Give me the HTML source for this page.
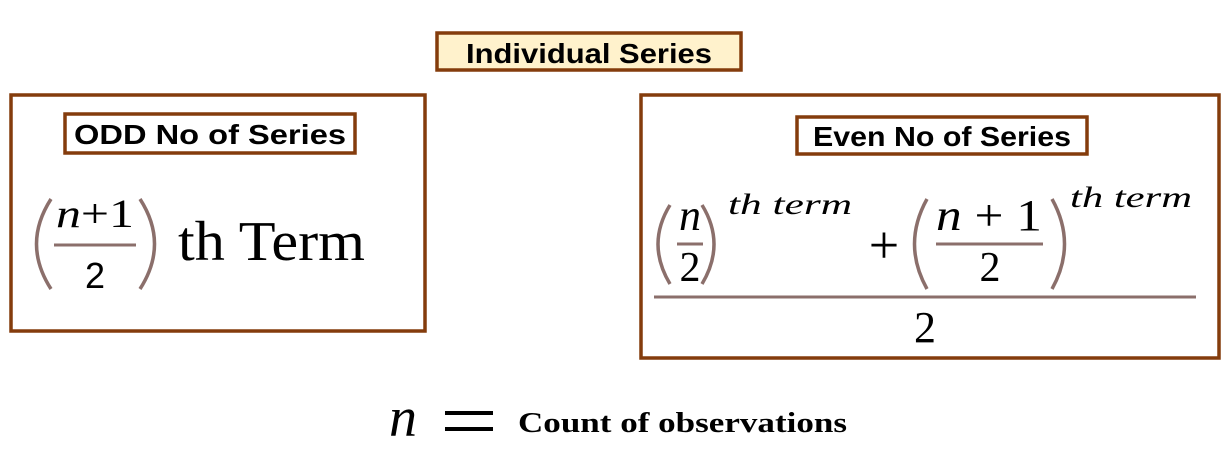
<!DOCTYPE html>
<html><head><meta charset="utf-8"><style>
html,body{margin:0;padding:0;background:#fff;}
svg{display:block;}
</style></head><body>
<svg width="1226" height="455" viewBox="0 0 1226 455" xmlns="http://www.w3.org/2000/svg">
<g fill="none" stroke="#843C0C" stroke-width="3.5">
<rect x="437" y="33" width="304" height="37" fill="#FFF2CC"/>
<rect x="11" y="95" width="414" height="236"/>
<rect x="65" y="114" width="290" height="39"/>
<rect x="641" y="95" width="578" height="263"/>
<rect x="797" y="117" width="290" height="37"/>
</g>
<g font-family="Liberation Sans, sans-serif" font-weight="bold" font-size="28" fill="#000" text-anchor="middle">
<text x="589" y="63" textLength="246" lengthAdjust="spacingAndGlyphs">Individual Series</text>
<text x="210" y="144" textLength="272" lengthAdjust="spacingAndGlyphs">ODD No of Series</text>
<text x="942" y="146" textLength="258" lengthAdjust="spacingAndGlyphs">Even No of Series</text>
</g>
<g fill="none" stroke="#8B6F6B" stroke-width="3.5">
<path d="M51,199 Q22,244 51,289"/>
<path d="M140,199 Q169,244 140,289"/>
<line x1="54" y1="245" x2="136" y2="245" stroke-width="3"/>
<path d="M670,205 Q646,244 670,284"/>
<path d="M702,205 Q726,244 702,284"/>
<path d="M927,199 Q902,244 927,289"/>
<path d="M1052,199 Q1077,244 1052,289"/>
<line x1="677" y1="244" x2="703" y2="244" stroke-width="3"/>
<line x1="936" y1="244" x2="1043" y2="244" stroke-width="3"/>
<line x1="654" y1="297" x2="1196" y2="297" stroke-width="3"/>
</g>
<g font-family="Liberation Serif, serif" fill="#000">
<text x="56" y="227" font-size="40" textLength="78" lengthAdjust="spacingAndGlyphs"><tspan font-style="italic">n</tspan>+1</text>
<text x="95" y="288" font-size="36" text-anchor="middle" font-family="Liberation Sans, sans-serif">2</text>
<text x="178" y="260" font-size="56" textLength="187" lengthAdjust="spacingAndGlyphs">th Term</text>
</g>
<g font-family="Liberation Serif, serif" fill="#000">
<text x="690" y="230" font-size="44" font-style="italic" text-anchor="middle">n</text>
<text x="690" y="281" font-size="42" text-anchor="middle">2</text>
<text x="728" y="214" font-size="30" font-style="italic" textLength="124" lengthAdjust="spacingAndGlyphs">th term</text>
<text x="884" y="263" font-size="54" text-anchor="middle">+</text>
<text x="936" y="230" font-size="44" textLength="106" lengthAdjust="spacingAndGlyphs"><tspan font-style="italic">n</tspan> + 1</text>
<text x="990" y="281" font-size="42" text-anchor="middle">2</text>
<text x="1070" y="207" font-size="30" font-style="italic" textLength="122" lengthAdjust="spacingAndGlyphs">th term</text>
<text x="925" y="342" font-size="44" text-anchor="middle">2</text>
</g>
<g font-family="Liberation Serif, serif" fill="#000">
<text x="389" y="436" font-size="56" font-style="italic">n</text>
<rect x="445" y="411" width="48" height="4"/>
<rect x="445" y="427" width="48" height="4"/>
<text x="518" y="432" font-size="28" font-weight="bold" textLength="329" lengthAdjust="spacingAndGlyphs">Count of observations</text>
</g>
</svg>
</body></html>
